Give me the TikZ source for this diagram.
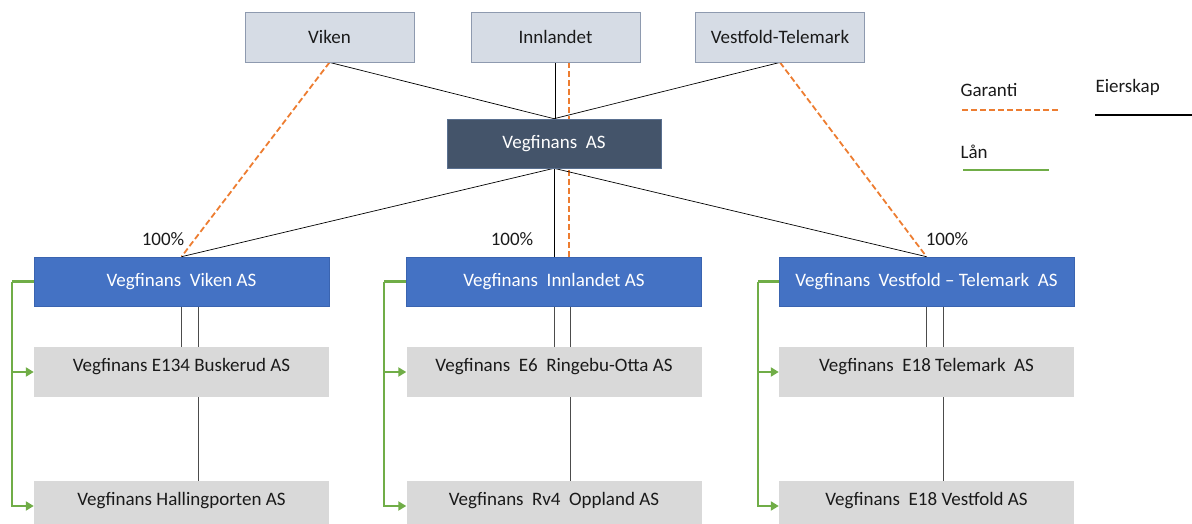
\documentclass[tikz,border=0pt]{standalone}
\usepackage{fontspec}
\setmainfont{Carlito}
\usetikzlibrary{backgrounds,arrows.meta}
\definecolor{topfill}{HTML}{D6DCE5}
\definecolor{topdraw}{HTML}{8E9AAF}
\definecolor{hqfill}{HTML}{44546A}
\definecolor{hqdraw}{HTML}{5A7090}
\definecolor{midfill}{HTML}{4472C4}
\definecolor{middraw}{HTML}{3A64B0}
\definecolor{grayfill}{HTML}{D9D9D9}
\definecolor{garcol}{HTML}{ED7D31}
\definecolor{loancol}{HTML}{70AD47}
\definecolor{txt}{HTML}{1A1A1A}
\begin{document}
\begin{tikzpicture}[x=1pt,y=-1pt,
  every node/.style={font=\fontsize{19}{22}\selectfont, text=txt},
  topbox/.style={draw=topdraw, fill=topfill, line width=0.8pt, minimum width=169pt, minimum height=50pt, inner sep=0pt},
  hqbox/.style={draw=hqdraw, fill=hqfill, line width=0.6pt, minimum width=214pt, minimum height=49pt, inner sep=0pt, text=white},
  midbox/.style={draw=middraw, fill=midfill, line width=0.6pt, minimum width=295pt, minimum height=49pt, inner sep=0pt, text=white},
  graybox/.style={fill=grayfill, minimum width=295pt, minimum height=50pt, inner sep=0pt, text height=14pt, text depth=16pt},
  own/.style={draw=black, line width=0.7pt},
  own2/.style={draw=black!70, line width=0.8pt},
  gar/.style={draw=garcol, line width=1.8pt, dash pattern=on 6pt off 3pt},
  loan/.style={draw=loancol, line width=2.4pt},
  loanarrow/.style={loan, -{Triangle[length=8pt,width=9pt]}},
  pct/.style={text=txt}
]
\clip (0,0) rectangle (1192,524);
\useasboundingbox (0,0) rectangle (1192,524);

% top owners
\node[topbox] (viken) at (329.5,37) {Viken};
\node[topbox] (inn) at (555.5,37) {Innlandet};
\node[topbox] (vt) at (780,37) {Vestfold-Telemark};

% holding
\node[hqbox] (hq) at (554,143.5) {Vegfinans\ \ AS};

% regional companies
\node[midbox] (mv) at (181.5,281.5) {Vegfinans\ \ Viken AS};
\node[midbox] (mi) at (554,281.5) {Vegfinans\ \ Innlandet AS};
\node[midbox] (mt) at (926.5,281.5) {Vegfinans\ \ Vestfold -- Telemark\ \ AS};

% project companies
\node[graybox] (v1) at (181.5,372) {Vegfinans E134 Buskerud AS};
\node[graybox] (v2) at (181.5,506) {Vegfinans Hallingporten AS};
\node[graybox] (i1) at (554,372) {Vegfinans\ \ E6\ \ Ringebu-Otta AS};
\node[graybox] (i2) at (554,506) {Vegfinans\ \ Rv4\ \ Oppland AS};
\node[graybox] (t1) at (926.5,372) {Vegfinans\ \ E18 Telemark\ \ AS};
\node[graybox] (t2) at (926.5,506) {Vegfinans\ \ E18 Vestfold AS};

% percentages
\node[pct] (p1) at (163,239) {100\%};
\node[pct] (p2) at (512,239) {100\%};
\node[pct] (p3) at (947,239) {100\%};

\begin{scope}[on background layer]
  % ownership top
  \draw[own] (viken.south) -- (hq.north);
  \draw[own] (inn.south) -- (inn.south |- hq.north);
  \draw[own] (vt.south) -- (hq.north);
  % guarantees
  \draw[gar] (viken.south) -- (mv.north);
  \draw[gar] ([xshift=13.5pt]inn.south) -- ([xshift=13.5pt]inn.south |- mi.north);
  \draw[gar] (vt.south) -- (mt.north);
  % ownership to regional
  \draw[own] (hq.south) -- (mv.north);
  \draw[own] (hq.south) -- (mi.north);
  \draw[own] (hq.south) -- (mt.north);
  % double lines
  \draw[own2] (mv.south) -- (mv.south |- v1.north);
  \draw[own2] ([xshift=17pt]mv.south) -- ([xshift=17pt]mv.south |- v1.north);
  \draw[own2] ([xshift=17pt]v1.south) -- ([xshift=17pt]v1.south |- v2.north);
  \draw[own2] (mi.south) -- (mi.south |- i1.north);
  \draw[own2] ([xshift=16pt]mi.south) -- ([xshift=16pt]mi.south |- i1.north);
  \draw[own2] ([xshift=16pt]i1.south) -- ([xshift=16pt]i1.south |- i2.north);
  \draw[own2] (mt.south) -- (mt.south |- t1.north);
  \draw[own2] ([xshift=17pt]mt.south) -- ([xshift=17pt]mt.south |- t1.north);
  \draw[own2] ([xshift=17pt]t1.south) -- ([xshift=17pt]t1.south |- t2.north);
\end{scope}

% loans
\draw[loan] (mv.west) -- ++(-22,0);
\draw[loanarrow] ([xshift=-22pt]mv.west) |- (v1.west);
\draw[loanarrow] ([xshift=-22pt]mv.west) |- (v2.west);
\draw[loan] (mi.west) -- ++(-22,0);
\draw[loanarrow] ([xshift=-22pt]mi.west) |- (i1.west);
\draw[loanarrow] ([xshift=-22pt]mi.west) |- (i2.west);
\draw[loan] (mt.west) -- ++(-21,0);
\draw[loanarrow] ([xshift=-21pt]mt.west) |- (t1.west);
\draw[loanarrow] ([xshift=-21pt]mt.west) |- (t2.west);

% legend
\node[anchor=west] (lgar) at (957,90) {Garanti};
\coordinate (ga) at (962,110);
\coordinate (gb) at (1058,110);
\draw[gar] (ga) -- (gb);
\node[anchor=west] (leie) at (1092,87) {Eierskap};
\coordinate (ea) at (1095,115);
\coordinate (eb) at (1192,115);
\draw[black, line width=1.2pt] (ea) -- (eb);
\node[anchor=west] (llan) at (957,152) {Lån};
\coordinate (la) at (963,170);
\coordinate (lb) at (1049,170);
\draw[loan] (la) -- (lb);
\end{tikzpicture}
\end{document}
